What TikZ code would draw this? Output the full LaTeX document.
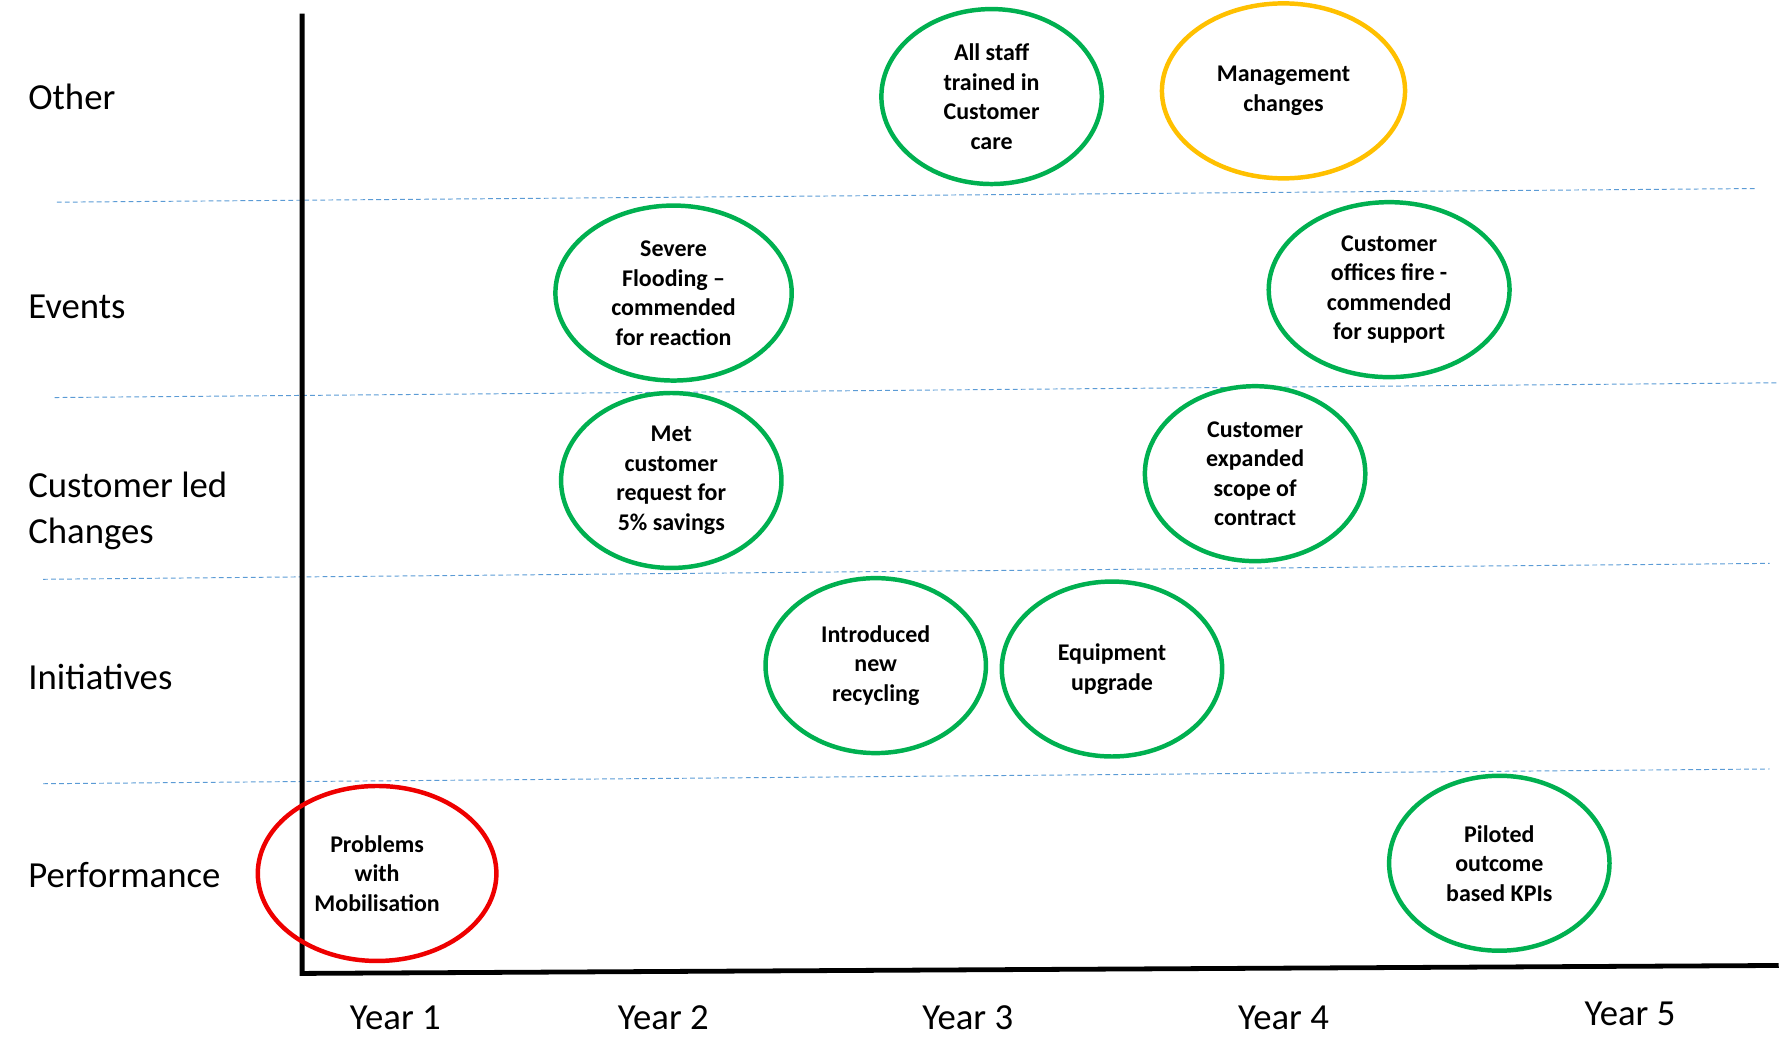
\documentclass[tikz,border=0pt]{standalone}
\usepackage{fontspec}
\setmainfont{Carlito}
\usetikzlibrary{shapes.geometric}
\definecolor{eg}{RGB}{0,176,80}
\definecolor{eo}{RGB}{255,192,0}
\definecolor{er}{RGB}{238,0,0}
\definecolor{dl}{RGB}{91,155,213}
\begin{document}
\begin{tikzpicture}[x=0.025cm,y=-0.025cm,
 ev/.style={ellipse,draw=eg,line width=2.8pt,minimum width=4.85cm,minimum height=3.85cm,inner sep=0pt,align=center,font=\fontsize{15}{18.5}\selectfont\bfseries},
 row/.style={anchor=west,font=\fontsize{23}{28.5}\selectfont,align=left},
 yr/.style={font=\fontsize{23}{28}\selectfont},
 sep/.style={dl,densely dashed,line width=0.6pt}]
\useasboundingbox (0,0) rectangle (1568,936);
\draw[sep] (50,178) -- (1545,166);
\draw[sep] (48,350) -- (1566,337);
\draw[sep] (38,510) -- (1558,496);
\draw[sep] (38,690) -- (1558,677);
\coordinate (top) at (266,12);
\coordinate (org) at (266,857);
\coordinate (right) at (1566,850);
\draw[line width=3pt] (top) -- (org) -- (right);
\node[row] (l1) at (20,85) {Other};
\node[row] (l2) at (20,270) {Events};
\node[row] (l3) at (20,450) {Customer led\\Changes};
\node[row] (l4) at (20,596) {Initiatives};
\node[row] (l5) at (20,770) {Performance};
\node[yr] (y1) at (348,896) {Year 1};
\node[yr] (y2) at (584,896) {Year 2};
\node[yr] (y3) at (852,896) {Year 3};
\node[yr] (y4) at (1130,896) {Year 4};
\node[yr] (y5) at (1435,893) {Year 5};
\node[ev] (a) at (873,85) {All staff\\trained in\\Customer\\care};
\node[ev,draw=eo,minimum width=5.35cm] (b) at (1130,80) {Management\\changes};
\node[ev,minimum width=5.2cm] (c) at (593,258) {Severe\\Flooding --\\commended\\for reaction};
\node[ev,minimum width=5.3cm] (d) at (1223,255) {Customer\\offices fire -\\commended\\for support};
\node[ev] (e) at (591,423) {Met\\customer\\request for\\5\% savings};
\node[ev] (f) at (1105,417) {Customer\\expanded\\scope of\\contract};
\node[ev] (g) at (771,586) {Introduced\\new\\recycling};
\node[ev] (h) at (979,589) {Equipment\\upgrade};
\node[ev,draw=er,minimum width=5.25cm] (i) at (332,769) {Problems\\with\\Mobilisation};
\node[ev] (j) at (1320,760) {Piloted\\outcome\\based KPIs};
\end{tikzpicture}
\end{document}
